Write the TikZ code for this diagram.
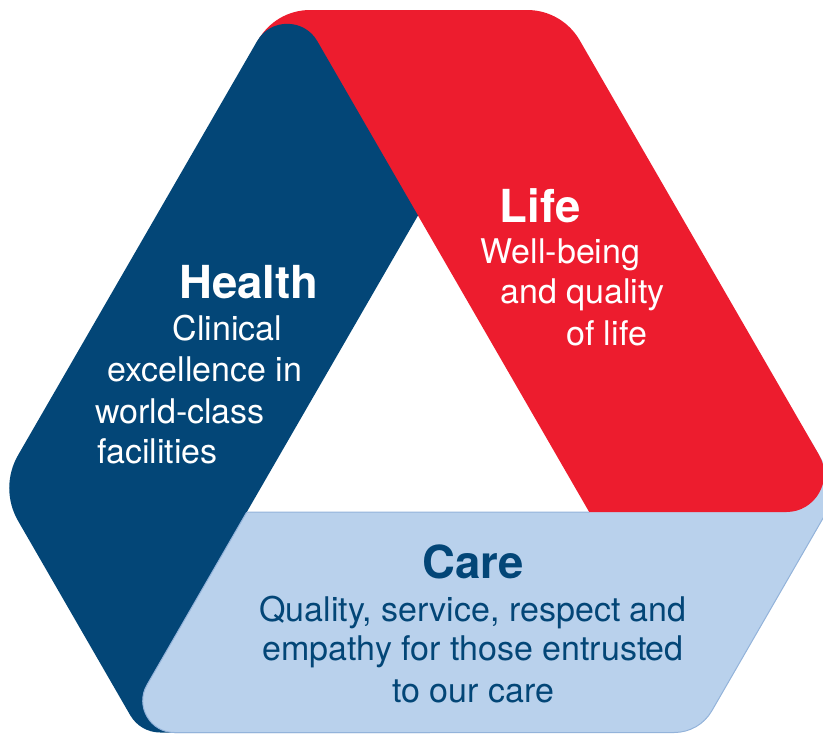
\documentclass[tikz,border=0pt]{standalone}
\usepackage{fontspec}
\setmainfont{TeX Gyre Heros}
\usetikzlibrary{calc}
\definecolor{dblue}{HTML}{034677}
\definecolor{lred}{HTML}{ED1C2E}
\definecolor{lblue}{HTML}{B9D1EC}
\definecolor{lbline}{HTML}{93B3DA}
\newcommand\carebandpath{(BL) -- (X1) -- (X2) -- (X3)
 -- ($(Rv)!30pt!(X3)$) .. controls ($(Rv)!11.4pt!(X3)$) and ($(Rv)!11.4pt!(BRv)$) .. ($(Rv)!30pt!(BRv)$)
 -- ($(BRv)!25pt!(Rv)$) .. controls ($(BRv)!9.5pt!(Rv)$) and ($(BRv)!9.5pt!(BLv)$) .. ($(BRv)!25pt!(BLv)$)
 -- ($(BLv)!55pt!(BRv)$) .. controls ($(BLv)!30.6pt!(BRv)$) and ($(BLv)!30.6pt!(BL)$) .. ($(BLv)!55pt!(BL)$)
 -- cycle}
\newcommand\careoutline{($(Rv)!30pt!(BRv)$)
 -- ($(BRv)!25pt!(Rv)$) .. controls ($(BRv)!9.5pt!(Rv)$) and ($(BRv)!9.5pt!(BLv)$) .. ($(BRv)!25pt!(BLv)$)
 -- ($(BLv)!55pt!(BRv)$) .. controls ($(BLv)!30.6pt!(BRv)$) and ($(BLv)!30.6pt!(BL)$) .. ($(BLv)!55pt!(BL)$)
 -- (BL) -- (BR)}
\begin{document}
\begin{tikzpicture}[x=1pt,y=-1pt,
  carefill/.style={fill=lblue},
  careline/.style={draw=lbline,line width=1pt,line join=round},
  head/.style={font=\fontsize{45.5}{50}\selectfont\bfseries,anchor=base,inner sep=0pt},
  body/.style={font=\fontsize{34}{40}\selectfont,anchor=base,inner sep=0pt}]
\useasboundingbox (0,0) rectangle (823,734);
\clip (0,0) rectangle (823,734);
% key points
\coordinate (P) at (287.2,-11);
\coordinate (A) at (418,215.5);
\coordinate (BL) at (246.8,512);
\coordinate (BB) at (374.1,732.5);
\coordinate (BLo) at (140.2,732.5);
\coordinate (Lv) at (-0.9,488);
\coordinate (TL) at (275.1,10);
\coordinate (TR) at (562.2,10);
\coordinate (RvR) at (852,512);
\coordinate (BR) at (589.2,512);
\coordinate (Q) at (241.4,70);
\coordinate (X1) at (640,512);
\coordinate (X2) at (640,440);
\coordinate (X3) at (810.5,440);
\coordinate (Rv) at (839.3,490);
\coordinate (BRv) at (699.3,732.5);
\coordinate (BLv) at (119.5,732.5);
% Care band (behind)
\fill[carefill] \carebandpath;
\draw[careline] \careoutline;
% Life band
\fill[lred]
 ($(TL)!35pt!(TR)$) -- ($(TR)!35pt!(TL)$) .. controls ($(TR)!13.3pt!(TL)$) and ($(TR)!13.3pt!(RvR)$) .. ($(TR)!35pt!(RvR)$)
 -- ($(RvR)!65.5pt!(TR)$) .. controls ($(RvR)!36.7pt!(TR)$) and ($(RvR)!36.7pt!(BR)$) .. ($(RvR)!65.5pt!(BR)$)
 -- (BR) -- (A) -- (Q)
 -- ($(TL)!35pt!(Q)$) .. controls ($(TL)!13.3pt!(Q)$) and ($(TL)!13.3pt!(TR)$) .. ($(TL)!35pt!(TR)$) -- cycle;
% Health band
\fill[dblue]
 ($(P)!60pt!(A)$) -- (A) -- (BL) -- (BB)
 -- ($(BLo)!20pt!(BB)$) .. controls ($(BLo)!7.6pt!(BB)$) and ($(BLo)!7.6pt!(Lv)$) .. ($(BLo)!20pt!(Lv)$)
 -- ($(Lv)!38pt!(BLo)$) .. controls ($(Lv)!14.4pt!(BLo)$) and ($(Lv)!14.4pt!(P)$) .. ($(Lv)!38pt!(P)$)
 -- ($(P)!60pt!(Lv)$) .. controls ($(P)!33.6pt!(Lv)$) and ($(P)!33.6pt!(A)$) .. ($(P)!60pt!(A)$) -- cycle;
% Care band over the lower end of Health
\begin{scope}
\clip (0,512) rectangle (430,740);
\fill[carefill] \carebandpath;
\draw[careline] \careoutline;
\end{scope}
% texts
\node[head,white] (health) at (249,298.3) {Health};
\node[body,white] (health1) at (227.5,340.7) {Clinical};
\node[body,white] (health2) at (205,381.7) {excellence in};
\node[body,white] (health3) at (180,423.3) {world-class};
\node[body,white] (health4) at (157.5,463.3) {facilities};
\node[head,white] (life) at (540,222.7) {Life};
\node[body,white] (life1) at (560.5,263.3) {Well-being};
\node[body,white] (life2) at (582.5,303.3) {and quality};
\node[body,white] (life3) at (606.5,345.7) {of life};
\node[head,dblue] (care) at (473.5,578.3) {Care};
\node[body,dblue] (care1) at (473,621.7) {Quality, service, respect and};
\node[body,dblue] (care2) at (473,660.7) {empathy for those entrusted};
\node[body,dblue] (care3) at (473,702.7) {to our care};
\end{tikzpicture}
\end{document}
